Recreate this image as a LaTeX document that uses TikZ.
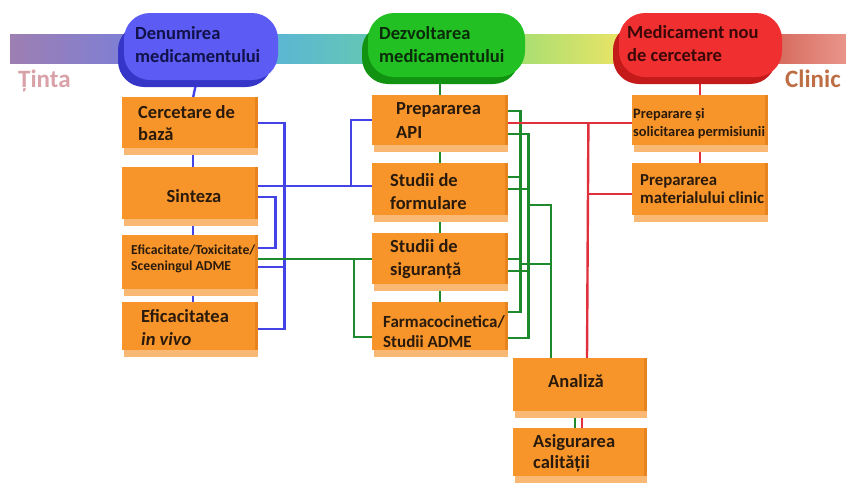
\documentclass[tikz,border=0pt]{standalone}
\usepackage{fontspec}
\setmainfont{Carlito}
\usetikzlibrary{backgrounds}
\definecolor{boxor}{HTML}{F7952B}
\definecolor{boxlt}{HTML}{F9B873}
\definecolor{boxdk}{HTML}{E88420}
\definecolor{boxtxt}{HTML}{2A1A0C}
\definecolor{lnblue}{HTML}{4444E6}
\definecolor{lngreen}{HTML}{1F8A2C}
\definecolor{lnred}{HTML}{E0303C}
\definecolor{pbl}{HTML}{5C5CF4}
\definecolor{pbld}{HTML}{3535C8}
\definecolor{pgr}{HTML}{22C022}
\definecolor{pgrd}{HTML}{119311}
\definecolor{prd}{HTML}{F03030}
\definecolor{prdd}{HTML}{C41A1A}
\definecolor{bandA}{HTML}{9D7FB2}
\definecolor{bandB}{HTML}{7D7FD6}
\definecolor{bandC}{HTML}{5BB5D5}
\definecolor{bandD}{HTML}{63C7B5}
\definecolor{bandE}{HTML}{A5DE72}
\definecolor{bandF}{HTML}{E9E466}
\definecolor{bandG}{HTML}{D66A5E}
\definecolor{bandH}{HTML}{E9958A}
\definecolor{tintac}{HTML}{D8A2A8}
\definecolor{clinicc}{HTML}{BE6E44}
\definecolor{ptblue}{HTML}{12124A}
\definecolor{ptgreen}{HTML}{0A2A0A}
\definecolor{ptred}{HTML}{3A0808}
\begin{document}
\begin{tikzpicture}[x=1pt,y=-1pt,
  obox/.style={rectangle,fill=boxor,minimum width=136pt,inner sep=0pt,anchor=north west},
  pill/.style={rectangle,rounded corners=26pt,inner sep=0pt},
  txt/.style={inner sep=0pt,anchor=base west,text=boxtxt},
  tbig/.style={txt,font=\fontsize{18.5}{22}\selectfont\bfseries},
  tmid/.style={txt,font=\fontsize{17}{20}\selectfont\bfseries},
  tsm/.style={txt,font=\fontsize{16.8}{20}\selectfont\bfseries},
  ttiny/.style={txt,font=\fontsize{13.7}{16}\selectfont\bfseries},
  tsmall/.style={txt,font=\fontsize{14.4}{16}\selectfont\bfseries},
  tend/.style={txt,font=\fontsize{25}{28}\selectfont\bfseries},
  bl/.style={draw=lnblue,line width=2.4pt},
  gr/.style={draw=lngreen,line width=2.4pt},
  rd/.style={draw=lnred,line width=2.4pt}]
\useasboundingbox (0,0) rectangle (846,485);

% band
\shade[left color=bandA,right color=bandB] (10,34) rectangle (130,63);
\shade[left color=bandC,right color=bandD] (270,34) rectangle (370,63);
\shade[left color=bandE,right color=bandF] (515,34) rectangle (620,63);
\shade[left color=bandG,right color=bandH] (775,34) rectangle (846,63);
\node[tend,text=tintac] (tinta) at (18,87) {Ținta};
\node[tend,text=clinicc] (clinic) at (785,87) {Clinic};

% pills
\fill[pbld,rounded corners=26pt] (118,24) rectangle (272,87);
\node[pill,fill=pbl,minimum width=154pt,minimum height=67pt] (p1) at (201,46.5) {};
\fill[pgrd,rounded corners=26pt] (362,24) rectangle (519,84);
\node[pill,fill=pgr,minimum width=157pt,minimum height=64pt] (p2) at (446.5,45) {};
\fill[prdd,rounded corners=26pt] (613,24) rectangle (776,84);
\node[pill,fill=prd,minimum width=163pt,minimum height=64pt] (p3) at (700.5,45) {};
\node[tbig,text=ptblue] (p1a) at (135,39) {Denumirea};
\node[tbig,text=ptblue] (p1b) at (135,62) {medicamentului};
\node[tbig,text=ptgreen] (p2a) at (379,39) {Dezvoltarea};
\node[tbig,text=ptgreen] (p2b) at (379,62) {medicamentului};
\node[tbig,text=ptred] (p3a) at (627,38) {Medicament nou};
\node[tbig,text=ptred] (p3b) at (627,61) {de cercetare};

% boxes
\node[obox,minimum height=51pt] (c1) at (122,97) {};
\node[obox,minimum height=52pt] (c2) at (122,167) {};
\node[obox,minimum height=54pt] (c3) at (122,235) {};
\node[obox,minimum height=48pt] (c4) at (122,302) {};
\node[obox,minimum height=50pt] (m1) at (372,95) {};
\node[obox,minimum height=52pt] (m2) at (372,163) {};
\node[obox,minimum height=51pt] (m3) at (372,233) {};
\node[obox,minimum height=48pt] (m4) at (372,302) {};
\node[obox,minimum height=50pt] (r1) at (632,95) {};
\node[obox,minimum height=52pt] (r2) at (632,163) {};
\node[obox,minimum height=53pt,minimum width=134pt] (a1) at (513,358) {};
\node[obox,minimum height=48pt,minimum width=134pt] (a2) at (513,428) {};
\foreach \n in {c1,c2,c3,c4,m1,m2,m3,m4,r1,r2,a1,a2}{
  \fill[boxdk] ([xshift=-3pt]\n.north east) rectangle (\n.south east);
  \fill[boxlt] ([xshift=2pt]\n.south west) rectangle ([yshift=-7pt]\n.south east);
}

% texts
\node[tbig] (c1a) at (138,118) {Cercetare de};
\node[tbig] (c1b) at (138,140) {bază};
\node[tbig,anchor=base] (c2a) at (194,202) {Sinteza};
\node[ttiny] (c3a) at (131,254) {Eficacitate/Toxicitate/};
\node[ttiny] (c3b) at (131,270) {Sceeningul ADME};
\node[tbig] (c4a) at (141,322) {Eficacitatea};
\node[tbig,font=\fontsize{18.5}{22}\selectfont\bfseries\itshape] (c4b) at (141,345) {in vivo};
\node[tbig] (m1a) at (396,114) {Prepararea};
\node[tbig] (m1b) at (396,138) {API};
\node[tbig] (m2a) at (390,186) {Studii de};
\node[tbig] (m2b) at (390,209) {formulare};
\node[tbig] (m3a) at (390,252) {Studii de};
\node[tbig] (m3b) at (390,275) {siguranță};
\node[tmid] (m4a) at (383,327) {Farmacocinetica/};
\node[tmid] (m4b) at (383,347) {Studii ADME};
\node[tsmall] (r1a) at (633,118) {Preparare și};
\node[tsmall] (r1b) at (633,136) {solicitarea permisiunii};
\node[tsm] (r2a) at (640,185) {Prepararea};
\node[tsm] (r2b) at (640,203) {materialului clinic};
\node[tbig] (a1a) at (548,387) {Analiză};
\node[tbig] (a2a) at (533,447) {Asigurarea};
\node[tbig] (a2b) at (533,468) {calității};

% connectors
\coordinate (jb) at (351,186);
\coordinate (jg) at (354,259);
\begin{scope}[on background layer]
  % vertical chains
  \draw[bl] ([xshift=3pt]c1.north) -- ([xshift=3pt]p1.center);
  \draw[bl] ([xshift=3pt]c1.south) -- ([xshift=3pt]c2.north);
  \draw[bl] ([xshift=3pt]c2.south) -- ([xshift=3pt]c3.north);
  \draw[bl] ([xshift=3pt]c3.south) -- ([xshift=3pt]c4.north);
  \draw[gr] (m1.north) -- (m1.north |- p2.center);
  \draw[gr] (m1.south) -- (m2.north);
  \draw[gr] (m2.south) -- (m3.north);
  \draw[gr] (m3.south) -- (m4.north);
  \draw[rd] (r1.north) -- (r1.north |- p3.center);
  \draw[rd] (r1.south) -- (r2.north);
  \draw[gr] ([xshift=-5pt]a1.south) -- ([xshift=-5pt]a2.north);
  \draw[rd] ([xshift=2pt]a1.south) -- ([xshift=2pt]a2.north);
  % blue left
  \draw[bl] (c1.east) -| ([xshift=26pt,yshift=-3pt]c4.east) -- ([yshift=-3pt]c4.east);
  \draw[bl] ([yshift=-5pt]c3.east) -- ([xshift=26pt,yshift=-5pt]c3.east);
  \draw[bl] ([yshift=7pt]c2.east) -- ([yshift=7pt]c2.east -| m2.west);
  \draw[bl] (jb) |- (m1.west);
  \draw[bl] ([yshift=-4pt]c2.east) -| ([xshift=17pt,yshift=14pt]c3.east) -- ([yshift=14pt]c3.east);
  % green left
  \draw[gr] ([yshift=3pt]c3.east) -- ([yshift=3pt]c3.east -| m3.west);
  \draw[gr] (jg) |- ([yshift=-11pt]m4.west);
  % green right bus A (x=519)
  \draw[gr] ([yshift=9pt]m1.east) -| ([xshift=12pt,yshift=14pt]m4.east) -- ([yshift=14pt]m4.east);
  \draw[gr] ([yshift=12pt]m2.east) -- ([xshift=12pt,yshift=12pt]m2.east);
  \draw[gr] (m3.east) -- ([xshift=12pt]m3.east);
  % green right bus B (x=527)
  \draw[gr] ([yshift=-14pt]m1.east) -| ([xshift=20pt,yshift=-12pt]m4.east) -- ([yshift=-12pt]m4.east);
  \draw[gr] (m2.east) -- ([xshift=20pt]m2.east);
  \draw[gr] ([yshift=-12.5pt]m3.east) -- ([xshift=20pt,yshift=-12.5pt]m3.east);
  % green bus C (x=551) to Analiza
  \draw[gr] ([xshift=20pt,yshift=-16pt]m2.east) -| ([xshift=38pt]a1.north west);
  \draw[gr] ([xshift=12pt,yshift=-5.5pt]m3.east) -- ([xshift=44pt,yshift=-5.5pt]m3.east);
  % red
  \draw[rd] ([yshift=-3pt]m1.east) -- ([yshift=-3pt]r1.west);
  \draw[rd] ([xshift=80pt,yshift=-3pt]m1.east) -- ([xshift=74pt]a1.north west);
  \draw[rd] ([xshift=80pt,yshift=-5pt]m1.east |- r2.west) -- ([yshift=-5pt]r2.west);
\end{scope}
\end{tikzpicture}
\end{document}
